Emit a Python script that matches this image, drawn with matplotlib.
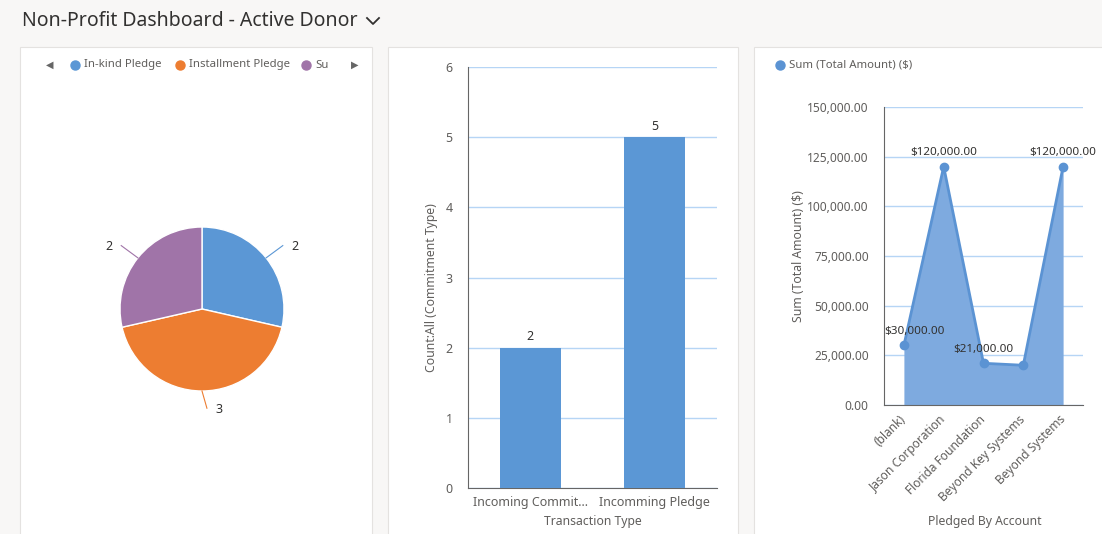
"""
Rebuilds the Non-Profit Dashboard (Active Donor) screenshot with matplotlib.
"""

import numpy as np
import matplotlib.pyplot as plt
from matplotlib.lines import Line2D
from matplotlib.patches import Rectangle
from matplotlib.ticker import FuncFormatter

plt.rcParams["font.family"] = ["Noto Sans", "DejaVu Sans"]

W, H = 1102, 534

# ---- data -------------------------------------------------------------
pie_categories = ["In-kind Pledge", "Installment Pledge", "Su"]
pie_counts = [2, 3, 2]
pie_colors = ["#5b97d5", "#ed7d31", "#a074a8"]

bar_categories = ["Incoming Commit...", "Incomming Pledge"]
bar_counts = [2, 5]

accounts = ["(blank)", "Jason Corporation", "Florida Foundation",
            "Beyond Key Systems", "Beyond Systems"]
amounts = [30000, 120000, 21000, 20000, 120000]
amount_label_shown = [True, True, True, False, True]

# ---- styling ----------------------------------------------------------
BG = "#f8f7f6"
TEXT_DARK = "#323130"
TEXT_GRAY = "#605e5c"
AXIS_COLOR = "#666666"
GRID_COLOR = "#b6d5f5"
BAR_BLUE = "#5b97d5"
AREA_FILL = "#7eaadf"
AREA_LINE = "#5b93d3"


def fx(x):
    return x / W


def fy(y):
    return 1 - y / H


def px_box(x, y, w, h):
    """Pixel box (top-left origin) -> figure fraction rect."""
    return [x / W, 1 - (y + h) / H, w / W, h / H]


def legend_item(fig, x, y, color, label):
    fig.add_artist(Line2D([fx(x)], [fy(y)], transform=fig.transFigure,
                          marker="o", ms=6.5, color=color, lw=0))
    fig.text(fx(x + 9), fy(y), label, fontsize=8.2, color=TEXT_GRAY,
             va="center", ha="left")


fig = plt.figure(figsize=(W / 100, H / 100), dpi=100, facecolor=BG)

# header
fig.text(fx(22), fy(21), "Non-Profit Dashboard - Active Donor", fontsize=14,
         weight="semibold", color=TEXT_DARK, va="center", ha="left")
fig.add_artist(Line2D([fx(367), fx(373), fx(379)], [fy(18), fy(24), fy(18)],
                      transform=fig.transFigure, color=TEXT_DARK, lw=1.3))

# panel cards
for left, right in [(20, 372), (388, 738), (754, 1110)]:
    fig.add_artist(Rectangle((fx(left), fy(540)), (right - left) / W, 493 / H,
                             transform=fig.transFigure, facecolor="white",
                             edgecolor="#e4e2e0", lw=0.8, zorder=-1))

# 1. Pie chart -----------------------------------------------------------
fig.text(fx(50), fy(65), "\u25C0", fontsize=7, color=AXIS_COLOR,
         va="center", ha="center", family="DejaVu Sans")
fig.text(fx(355), fy(65), "\u25B6", fontsize=7, color=AXIS_COLOR,
         va="center", ha="center", family="DejaVu Sans")
for x, color, label in zip([75, 180, 306], pie_colors, pie_categories):
    legend_item(fig, x, 65, color, label)

ax1 = fig.add_axes(px_box(120, 227, 164, 164))
wedges, _ = ax1.pie(pie_counts, colors=pie_colors, startangle=90,
                    counterclock=False, radius=1,
                    wedgeprops={"edgecolor": "white", "linewidth": 1})
ax1.set_xlim(-1, 1)
ax1.set_ylim(-1, 1)
ax1.set_aspect("equal")
for wedge, count, color in zip(wedges, pie_counts, pie_colors):
    ang = np.deg2rad((wedge.theta1 + wedge.theta2) / 2)
    x0, y0 = np.cos(ang), np.sin(ang)
    x1, y1 = 1.26 * np.cos(ang), 1.24 * np.sin(ang)
    if abs(x0) < 0.05:
        x1 += 0.06
        y1 += 0.03
    ax1.plot([x0, x1], [y0, y1], color=color, lw=0.8, clip_on=False)
    side = 1 if x1 >= 0 else -1
    ax1.annotate(str(count), xy=(x1, y1), xytext=(6 * side, -1),
                 textcoords="offset points", ha="left" if side > 0 else "right",
                 va="center", fontsize=9, color=TEXT_DARK,
                 annotation_clip=False)

# 2. Bar chart -----------------------------------------------------------
ax2 = fig.add_axes(px_box(468, 67, 249, 421))
xb = np.arange(len(bar_categories))
bars = ax2.bar(xb, bar_counts, width=0.49, color=BAR_BLUE, zorder=3)
ax2.set_xlim(-0.5, len(bar_categories) - 0.5)
ax2.set_ylim(0, 6)
ax2.set_yticks(range(0, 7))
ax2.set_xticks(xb)
ax2.set_xticklabels(bar_categories)
ax2.grid(axis="y", color=GRID_COLOR, lw=1)
ax2.set_axisbelow(True)
for s in ["top", "right"]:
    ax2.spines[s].set_visible(False)
for s in ["left", "bottom"]:
    ax2.spines[s].set_color(AXIS_COLOR)
ax2.tick_params(axis="both", length=0, labelsize=9, labelcolor=TEXT_GRAY)
ax2.tick_params(axis="y", pad=11)
ax2.tick_params(axis="x", pad=6)
for rect, val in zip(bars, bar_counts):
    ax2.annotate(str(val), xy=(rect.get_x() + rect.get_width() / 2, val),
                 xytext=(0, 8), textcoords="offset points", ha="center",
                 va="center", fontsize=9, color=TEXT_DARK)
ax2.set_ylabel("Count:All (Commitment Type)", fontsize=8.8, color=TEXT_GRAY)
ax2.yaxis.set_label_coords((432 - 468) / 249, (488 - 288) / 421)
ax2.yaxis.label.set_va("center")
ax2.set_xlabel("Transaction Type", fontsize=8.8, color=TEXT_GRAY)
ax2.xaxis.set_label_coords(0.5, (488 - 522) / 421)
ax2.xaxis.label.set_va("center")

# 3. Area / line chart ---------------------------------------------------
legend_item(fig, 780, 65, AREA_LINE, "Sum (Total Amount) ($)")

ax3 = fig.add_axes(px_box(884, 107, 199, 298))
xa = np.arange(len(accounts))
ax3.fill_between(xa, amounts, color=AREA_FILL, lw=0, zorder=2)
ax3.plot(xa, amounts, color=AREA_LINE, lw=2, marker="o", ms=6, zorder=3)
ax3.set_xlim(-0.5, len(accounts) - 0.5)
ax3.set_ylim(0, 150000)
ax3.set_yticks(range(0, 150001, 25000))
ax3.yaxis.set_major_formatter(FuncFormatter(lambda v, _: f"{v:,.2f}"))
ax3.set_xticks(xa)
ax3.set_xticklabels(accounts, rotation=45, ha="right", va="center",
                    rotation_mode="anchor")
ax3.grid(axis="y", color=GRID_COLOR, lw=1)
ax3.set_axisbelow(True)
for s in ["top", "right"]:
    ax3.spines[s].set_visible(False)
for s in ["left", "bottom"]:
    ax3.spines[s].set_color(AXIS_COLOR)
    ax3.spines[s].set_zorder(4)
ax3.tick_params(axis="both", length=0, labelsize=8.6, labelcolor=TEXT_GRAY)
ax3.tick_params(axis="y", pad=11)
ax3.tick_params(axis="x", pad=9)
for i, (val, shown) in enumerate(zip(amounts, amount_label_shown)):
    if not shown:
        continue
    # first label is pushed right so it stays inside the plot area
    dx = -14 if i == 0 else 0
    ax3.annotate(f"${val:,.2f}", xy=(xa[i], val), xytext=(dx, 10),
                 textcoords="offset points",
                 ha="left" if i == 0 else "center", va="center",
                 fontsize=8.4, color=TEXT_DARK, zorder=5)
ax3.set_ylabel("Sum (Total Amount) ($)", fontsize=8.8, color=TEXT_GRAY)
ax3.yaxis.set_label_coords((798 - 884) / 199, 0.5)
ax3.yaxis.label.set_va("center")
ax3.set_xlabel("Pledged By Account", fontsize=8.8, color=TEXT_GRAY)
ax3.xaxis.set_label_coords((985 - 884) / 199, (405 - 522) / 298)
ax3.xaxis.label.set_va("center")

fig.savefig("out.png", dpi=100, facecolor=BG)
